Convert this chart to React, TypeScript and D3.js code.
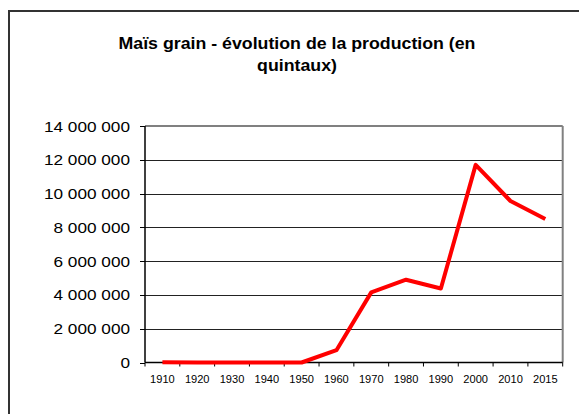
import React from "react";
import * as d3 from "d3";

const years = ["1910", "1920", "1930", "1940", "1950", "1960", "1970", "1980", "1990", "2000", "2010", "2015"];
const production = [15000, 0, 0, 0, 0, 730000, 4150000, 4900000, 4380000, 11700000, 9560000, 8490000];
const yTicks = [0, 2000000, 4000000, 6000000, 8000000, 10000000, 12000000, 14000000];
const titleLines = ["Maïs grain - évolution de la production (en", "quintaux)"];

const W = 579;
const H = 414;
const left = 145;
const right = 562.7;
const top = 126;
const bottom = 362.5;
const SX = 1.11;
const FONT = "'Liberation Sans', Arial, sans-serif";

export default function App() {
  const x = d3.scaleBand<string>().domain(years).range([left, right]).padding(0);
  const y = d3.scaleLinear().domain([0, 14000000]).range([bottom, top]);
  const fmt = (v: number) => d3.format(",")(v).replace(/,/g, " ");
  const line = d3
    .line<number>()
    .x((_, i) => (x(years[i]) as number) + x.bandwidth() / 2)
    .y((d) => y(d));
  const xTickPos = years.map((yr) => x(yr) as number).concat([right]);

  return (
    <svg
      width={W}
      height={H}
      style={{ position: "absolute", left: 0, top: 0, background: "#fff" }}
    >
      <rect x={0} y={0} width={W} height={H} fill="#fff" />
      {/* outer frame */}
      <rect x={9} y={11} width={W + 20} height={H + 20} fill="none" stroke="#333" strokeWidth={2} />
      {/* title */}
      {titleLines.map((t, i) => (
        <text
          key={i}
          transform={`translate(297,${49 + i * 21.5}) scale(${SX},1)`}
          textAnchor="middle"
          fontFamily={FONT}
          fontWeight="bold"
          fontSize={16}
          fill="#000"
        >
          {t}
        </text>
      ))}
      {/* gridlines */}
      {yTicks.slice(1, -1).map((t) => (
        <line key={t} x1={left} x2={right} y1={Math.round(y(t)) + 0.5} y2={Math.round(y(t)) + 0.5} stroke="#222" strokeWidth={1} />
      ))}
      {/* plot border top and right */}
      <line x1={left} x2={right} y1={y(14000000)} y2={y(14000000)} stroke="#808080" strokeWidth={2} />
      <line x1={right} x2={right} y1={top} y2={bottom} stroke="#808080" strokeWidth={2} />
      {/* y axis */}
      <line x1={left} x2={left} y1={top} y2={bottom} stroke="#000" strokeWidth={1.5} />
      {yTicks.map((t) => (
        <g key={t}>
          <line x1={left - 5} x2={left} y1={Math.round(y(t)) + 0.5} y2={Math.round(y(t)) + 0.5} stroke="#000" strokeWidth={1} />
          <text
            transform={`translate(130,${y(t) + 5.5}) scale(${SX},1)`}
            textAnchor="end"
            fontFamily={FONT}
            fontSize={15.5}
            fill="#000"
          >
            {fmt(t)}
          </text>
        </g>
      ))}
      {/* x axis */}
      <line x1={left} x2={right} y1={bottom} y2={bottom} stroke="#000" strokeWidth={1.5} />
      {xTickPos.map((p, i) => (
        <line key={i} x1={p} x2={p} y1={bottom} y2={bottom + 4} stroke="#000" strokeWidth={1} />
      ))}
      {years.map((yr) => (
        <text
          key={yr}
          transform={`translate(${(x(yr) as number) + x.bandwidth() / 2},383) scale(${SX},1)`}
          textAnchor="middle"
          fontFamily={FONT}
          fontSize={10}
          fill="#000"
        >
          {yr}
        </text>
      ))}
      {/* data line */}
      <path
        d={line(production) || ""}
        fill="none"
        stroke="#ff0000"
        strokeWidth={4}
        strokeLinejoin="round"
      />
    </svg>
  );
}
